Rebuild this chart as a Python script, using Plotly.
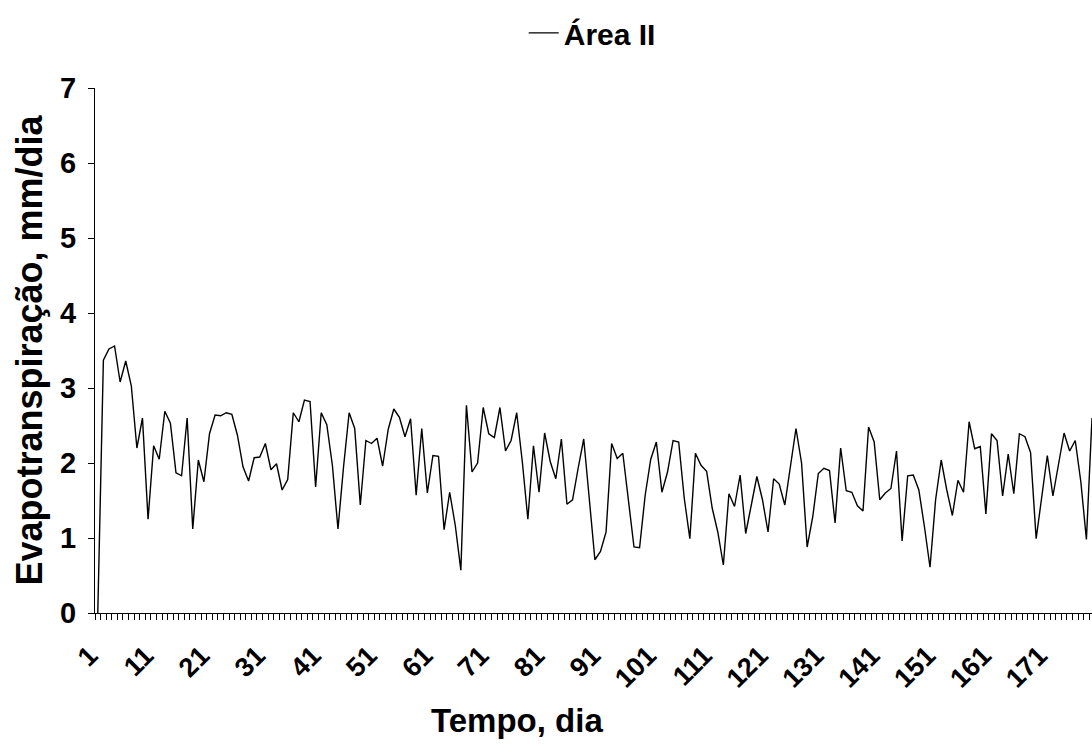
import plotly.graph_objects as go

days = list(range(1, 180))
et_area2 = [
    0.00, 3.37, 3.52, 3.56, 3.08, 3.36, 3.03, 2.20, 2.60, 1.25,
    2.23, 2.05, 2.69, 2.53, 1.87, 1.83, 2.60, 1.12, 2.04, 1.75,
    2.39, 2.64, 2.63, 2.67, 2.65, 2.37, 1.95, 1.76, 2.07, 2.08,
    2.26, 1.91, 1.99, 1.64, 1.78, 2.67, 2.55, 2.84, 2.82, 1.68,
    2.67, 2.51, 1.97, 1.12, 1.95, 2.67, 2.46, 1.44, 2.30, 2.26,
    2.33, 1.96, 2.45, 2.72, 2.61, 2.35, 2.59, 1.57, 2.46, 1.60,
    2.10, 2.09, 1.11, 1.61, 1.17, 0.57, 2.77, 1.88, 2.00, 2.74,
    2.39, 2.34, 2.74, 2.16, 2.30, 2.67, 2.02, 1.25, 2.23, 1.61,
    2.40, 2.02, 1.79, 2.32, 1.45, 1.51, 1.93, 2.32, 1.52, 0.71,
    0.82, 1.08, 2.26, 2.06, 2.13, 1.53, 0.88, 0.87, 1.57, 2.05,
    2.28, 1.61, 1.88, 2.30, 2.28, 1.53, 0.99, 2.13, 1.97, 1.89,
    1.40, 1.08, 0.64, 1.59, 1.42, 1.84, 1.06, 1.44, 1.82, 1.51,
    1.08, 1.79, 1.72, 1.44, 1.98, 2.46, 2.00, 0.88, 1.28, 1.86,
    1.93, 1.90, 1.20, 2.20, 1.63, 1.61, 1.43, 1.36, 2.48, 2.28,
    1.51, 1.60, 1.66, 2.16, 0.96, 1.83, 1.84, 1.64, 1.15, 0.61,
    1.51, 2.04, 1.64, 1.30, 1.77, 1.61, 2.55, 2.19, 2.22, 1.32,
    2.39, 2.30, 1.56, 2.12, 1.59, 2.39, 2.35, 2.14, 0.99, 1.55,
    2.10, 1.56, 1.96, 2.40, 2.16, 2.30, 1.75, 0.98, 2.60,
]
x_tick_vals = list(range(1, 180, 10))
x_tick_text = [str(v) for v in x_tick_vals]
y_tick_vals = [0, 1, 2, 3, 4, 5, 6, 7]

FONT = "Liberation Sans, Arial, sans-serif"

fig = go.Figure()
fig.add_trace(go.Scatter(
    x=days, y=et_area2, mode="lines", name="<b>Área II</b>",
    line=dict(color="black", width=1.4),
))

fig.update_layout(
    width=1092, height=753,
    margin=dict(l=95, r=0, t=88, b=140, autoexpand=False),
    paper_bgcolor="white", plot_bgcolor="white",
    font=dict(family=FONT, color="black", size=28),
    showlegend=True,
    legend=dict(
        orientation="h", x=0.43, y=1.105, xanchor="left", yanchor="middle",
        font=dict(size=30, family=FONT, color="black"),
        bgcolor="rgba(0,0,0,0)", itemwidth=30,
    ),
    annotations=[dict(
        text="<b>Tempo, dia</b>", xref="paper", yref="paper",
        x=0.423, y=-0.205, xanchor="center", yanchor="middle",
        showarrow=False, font=dict(size=33, family=FONT, color="black"),
    )],
)

fig.update_xaxes(
    range=[0.5, 179.0], showgrid=False, zeroline=False,
    showline=True, linecolor="black", linewidth=1,
    tickmode="array", tickvals=x_tick_vals,
    ticktext=[f"<b>{t}</b>" for t in x_tick_text],
    tickangle=-45, ticks="", tickfont=dict(size=27, family=FONT),
    ticklabelshift=-8, ticklabelstandoff=15,
    minor=dict(ticks="outside", ticklen=6, tickcolor="black", tick0=0.5, dtick=1, tickwidth=1, showgrid=False),
)
fig.update_yaxes(
    range=[0, 7], showgrid=False, zeroline=False,
    showline=True, linecolor="black", linewidth=1,
    tickmode="array", tickvals=y_tick_vals,
    ticktext=[f"<b>{v}</b>" for v in y_tick_vals],
    ticks="outside", ticklen=6, tickcolor="black",
    tickfont=dict(size=29, family=FONT), ticklabelstandoff=6,
    title=dict(text="<b>Evapotranspiração, mm/dia</b>", standoff=6,
               font=dict(size=36, family=FONT)),
)

fig.write_html("out.html")
